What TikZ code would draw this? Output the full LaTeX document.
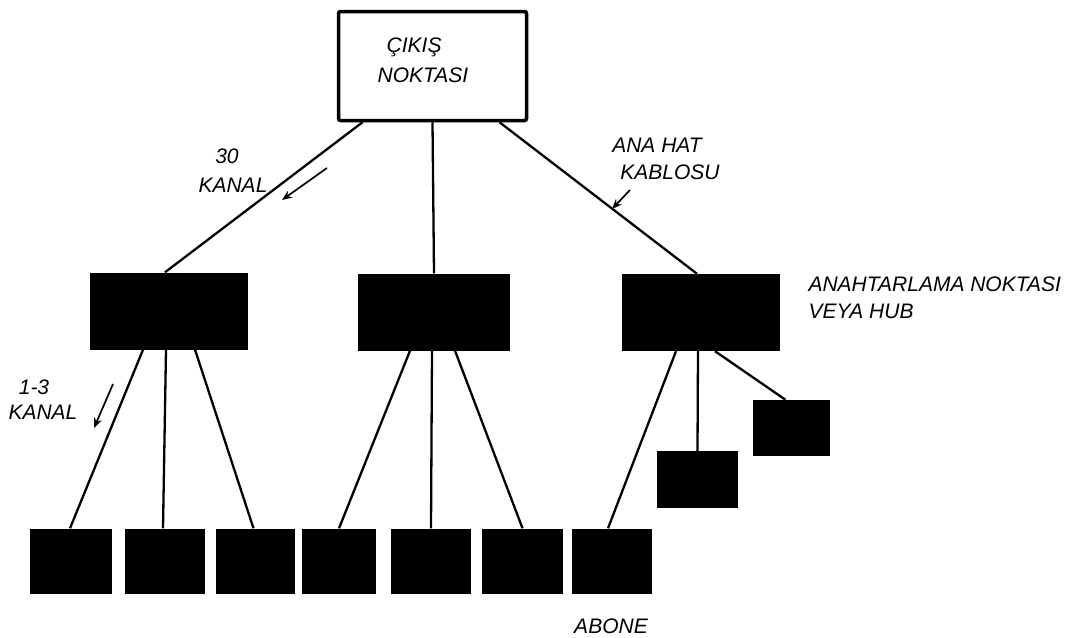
\documentclass[tikz,border=0pt]{standalone}
\usepackage{fontspec}
\setmainfont{Liberation Sans}
\usetikzlibrary{arrows.meta}
\begin{document}
\begin{tikzpicture}[x=1pt,y=-1pt,
  every node/.style={font=\fontsize{21}{27}\selectfont\itshape},
  hub/.style={fill=black,inner sep=0pt,minimum width=158pt,minimum height=77pt},
  abone/.style={fill=black,inner sep=0pt,minimum width=80pt,minimum height=65pt},
  cable/.style={line width=2.3pt},
  flow/.style={line width=1.7pt,-{Stealth[length=10pt,width=8pt]}}]
  \useasboundingbox (0,0) rectangle (1073,637);
  \node[draw,line width=3.5pt,rounded corners=2pt,minimum width=188pt,minimum height=109pt] (cikis) at (432.5,66) {};
  \node[align=left,font=\fontsize{21}{30}\selectfont\itshape] (cikisTxt) at (423,60) {\hspace*{9pt}ÇIKIŞ\\NOKTASI};
  \node[hub] (hubL) at (169,311) {};
  \node[hub,minimum width=152pt] (hubM) at (434,312) {};
  \node[hub] (hubR) at (701,312.5) {};
  \node[abone,minimum width=82pt] (ab1) at (71,561) {};
  \node[abone] (ab2) at (165,561) {};
  \node[abone,minimum width=79pt] (ab3) at (255.5,561) {};
  \node[abone,minimum width=74pt] (ab4) at (339,561) {};
  \node[abone] (ab5) at (431,561) {};
  \node[abone,minimum width=81pt] (ab6) at (522.5,561) {};
  \node[abone] (ab7) at (612,561) {};
  \node[abone,minimum width=81pt,minimum height=57pt] (abA) at (697.5,479.5) {};
  \node[abone,minimum width=77pt,minimum height=56pt] (abB) at (791.5,428) {};
  \draw[cable] ([xshift=-70pt]cikis.south) -- ([xshift=-4pt]hubL.north);
  \draw[cable] (cikis.south) -- (hubM.north);
  \draw[cable] ([xshift=67pt]cikis.south) -- ([xshift=-4pt]hubR.north);
  \draw[cable] ([xshift=-26pt]hubL.south) -- ([xshift=-1pt]ab1.north);
  \draw[cable] ([xshift=-3pt]hubL.south) -- ([xshift=-2pt]ab2.north);
  \draw[cable] ([xshift=26pt]hubL.south) -- ([xshift=-2pt]ab3.north);
  \draw[cable] ([xshift=-24pt]hubM.south) -- (ab4.north);
  \draw[cable] ([xshift=-2pt]hubM.south) -- (ab5.north);
  \draw[cable] ([xshift=21pt]hubM.south) -- (ab6.north);
  \draw[cable] ([xshift=-25pt]hubR.south) -- ([xshift=-4pt]ab7.north);
  \draw[cable] ([xshift=-3pt]hubR.south) -- (abA.north);
  \draw[cable] ([xshift=14pt]hubR.south) -- ([xshift=-6pt]abB.north);
  \node (otuz) at (227,156) {30};
  \node (kanalA) at (233,185) {KANAL};
  \node (birUc) at (34,387) {1-3};
  \node (kanalB) at (43,412) {KANAL};
  \node (anaHat) at (657,145) {ANA HAT};
  \node (kablosu) at (670,172) {KABLOSU};
  \node[anchor=west,align=left] (anahtar) at (805,298) {ANAHTARLAMA NOKTASI\\VEYA HUB};
  \node (aboneTxt) at (611,626) {ABONE};
  \coordinate (k30a) at (327,168);
  \coordinate (k30b) at (282,200);
  \coordinate (k13a) at (113,384);
  \coordinate (k13b) at (94,428);
  \coordinate (kabA) at (630,190);
  \coordinate (kabB) at (612,209);
  \draw[flow] (k30a) -- (k30b);
  \draw[flow] (k13a) -- (k13b);
  \draw[flow] (kabA) -- (kabB);
\end{tikzpicture}
\end{document}
